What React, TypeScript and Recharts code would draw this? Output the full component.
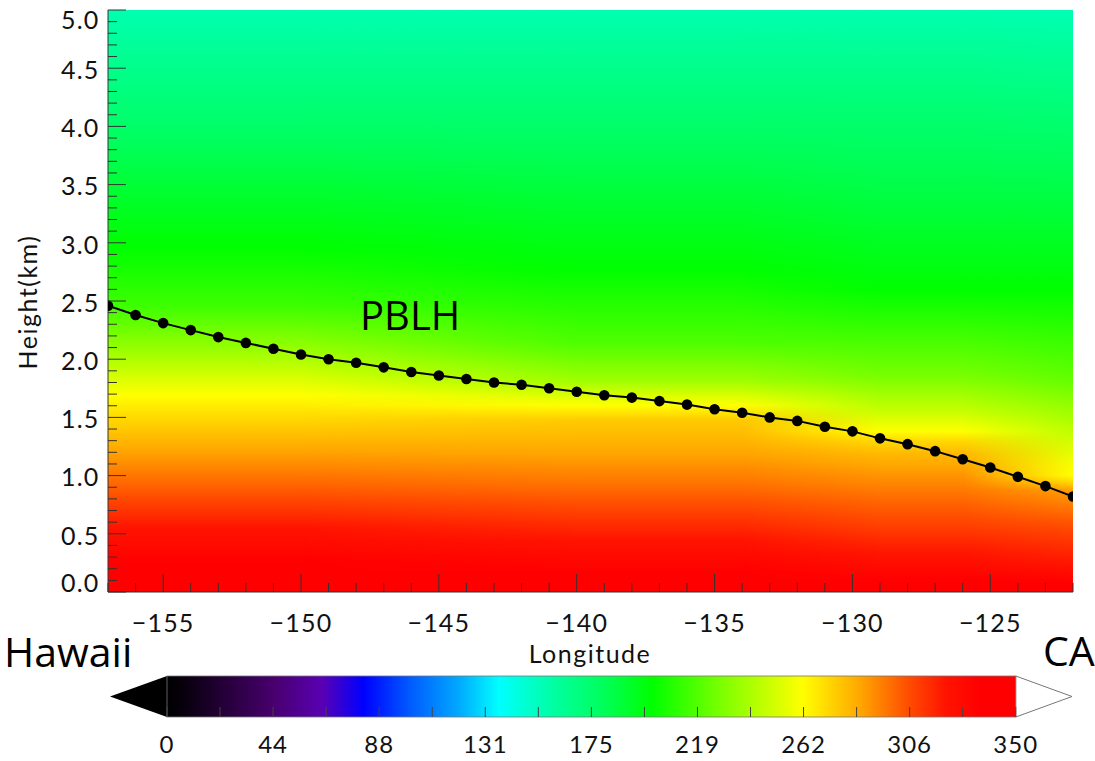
import { ComposedChart, Line, XAxis, YAxis, ReferenceArea } from "recharts";

// PBL height along the Hawaii -> California transect
const LONGITUDES = [
  -157, -156, -155, -154, -153, -152, -151, -150, -149, -148, -147, -146,
  -145, -144, -143, -142, -141, -140, -139, -138, -137, -136, -135, -134,
  -133, -132, -131, -130, -129, -128, -127, -126, -125, -124, -123, -122,
];
const PBLH_KM = [
  2.46, 2.38, 2.31, 2.25, 2.19, 2.14, 2.09, 2.04, 2.0, 1.97, 1.93, 1.89,
  1.86, 1.83, 1.8, 1.78, 1.75, 1.72, 1.69, 1.67, 1.64, 1.61, 1.57, 1.54,
  1.5, 1.47, 1.42, 1.38, 1.32, 1.27, 1.21, 1.14, 1.07, 0.99, 0.91, 0.82,
];

const X_LABELS = [-155, -150, -145, -140, -135, -130, -125];

// background field: vertical profiles (height km -> colour-bar value) at a few longitudes
const PROFILE_LONS = [-157, -136, -129, -122];
const PROFILE_HEIGHTS = [
  [0, 0.25, 0.55, 0.87, 1.19, 1.5, 1.69, 1.9, 2.14, 2.46, 2.96, 3.5, 4.05, 4.5, 5.0],
  [0, 0.23, 0.55, 0.87, 1.19, 1.48, 1.63, 1.82, 2.14, 2.77, 3.5, 4.2, 5.0],
  [0, 0.25, 0.55, 0.87, 1.19, 1.3, 1.38, 1.55, 1.85, 2.6, 3.3, 4.1, 5.0],
  [0, 0.23, 0.55, 0.88, 0.93, 1.0, 1.09, 1.35, 1.82, 2.6, 3.3, 4.0, 5.0],
];
const PROFILE_VALUES = [
  [345, 335, 321, 303, 287, 272, 262, 248, 232, 214, 200, 188, 175, 166, 156],
  [342, 332, 316, 300, 286, 276, 259, 237, 218, 200, 186, 172, 156],
  [342, 325, 310, 296, 281, 272, 262, 248, 228, 200, 187, 174, 156],
  [342, 321, 307, 287, 275, 262, 260, 247, 223, 200, 187, 175, 155],
];

// colour bar
const CB_LABELS = ["0", "44", "88", "131", "175", "219", "262", "306", "350"];
const CMAP_VALUES = [0, 8, 44, 64, 81, 100, 120, 137, 160, 180, 200, 230, 262, 285, 305, 321, 335, 350];
const CMAP_COLORS = [
  "#000000", "#0a0010", "#48006e", "#5a00b4", "#0000ff", "#005aff", "#00a8ff",
  "#00ffff", "#00ffa0", "#00ff5a", "#00ff00", "#82ff00", "#ffff00", "#ffaa00",
  "#ff5000", "#ff1400", "#ff0000", "#ff0000",
];

const XMIN = -157;
const XMAX = -122;
const CB_MAX = 350;
const TICK_FONT = "Lato, 'DejaVu Sans', sans-serif";
const NOTE_FONT = "'Open Sans', 'Noto Sans', sans-serif";

const DATA = LONGITUDES.map((lon, i) => ({ lon, h: PBLH_KM[i] }));
const Y_TICKS = Array.from({ length: 51 }, (_, i) => i / 10);
const CB_TICKS = Array.from({ length: 17 }, (_, i) => (i * CB_MAX) / 16);

function hexRgb(h: string) {
  return [1, 3, 5].map((k) => parseInt(h.slice(k, k + 2), 16));
}

function cmap(v: number) {
  let i = 0;
  while (i < CMAP_VALUES.length - 2 && v > CMAP_VALUES[i + 1]) i++;
  const t = Math.max(0, Math.min(1, (v - CMAP_VALUES[i]) / (CMAP_VALUES[i + 1] - CMAP_VALUES[i])));
  const a = hexRgb(CMAP_COLORS[i]);
  const b = hexRgb(CMAP_COLORS[i + 1]);
  const c = a.map((ai, k) => Math.round(ai + (b[k] - ai) * t));
  return `rgb(${c[0]},${c[1]},${c[2]})`;
}

// gradient stops top (5 km) -> bottom (0 km), subdivided so the colours follow the colormap
function profileStops(p: number) {
  const hs = PROFILE_HEIGHTS[p];
  const vs = PROFILE_VALUES[p];
  const out: { offset: number; color: string }[] = [];
  const SUB = 6;
  for (let j = hs.length - 1; j > 0; j--) {
    for (let s = 0; s < SUB; s++) {
      const t = s / SUB;
      const h = hs[j] + (hs[j - 1] - hs[j]) * t;
      const v = vs[j] + (vs[j - 1] - vs[j]) * t;
      out.push({ offset: 1 - h / 5, color: cmap(v) });
    }
  }
  out.push({ offset: 1 - hs[0] / 5, color: cmap(vs[0]) });
  return out;
}

// longitude ranges over which each later profile fades in over the previous one
const BLENDS = [
  [-150, -140],
  [-134, -129],
  [-126, -122],
];

function HeatLayer(props: any) {
  const { x, y, width, height } = props;
  const frac = (lon: number) => (lon - XMIN) / (XMAX - XMIN);
  return (
    <g>
      <defs>
        {PROFILE_LONS.map((_, p) => (
          <linearGradient key={p} id={`heat-${p}`} x1="0" y1="0" x2="0" y2="1">
            {profileStops(p).map((s, k) => (
              <stop key={k} offset={s.offset} stopColor={s.color} />
            ))}
          </linearGradient>
        ))}
        {BLENDS.map((b, k) => (
          <linearGradient key={`r${k}`} id={`ramp-${k}`} x1="0" y1="0" x2="1" y2="0">
            <stop offset={frac(b[0])} stopColor="#fff" stopOpacity={0} />
            <stop offset={frac(b[1])} stopColor="#fff" stopOpacity={1} />
          </linearGradient>
        ))}
        {BLENDS.map((_, k) => (
          <mask key={`m${k}`} id={`mask-${k}`} maskUnits="userSpaceOnUse" x={x} y={y} width={width} height={height}>
            <rect x={x} y={y} width={width} height={height} fill={`url(#ramp-${k})`} />
          </mask>
        ))}
      </defs>
      <rect x={x} y={y} width={width} height={height} fill="url(#heat-0)" />
      {BLENDS.map((_, k) => (
        <rect
          key={k}
          x={x}
          y={y}
          width={width}
          height={height}
          fill={`url(#heat-${k + 1})`}
          mask={`url(#mask-${k})`}
        />
      ))}
    </g>
  );
}

function XBottomTick({ x, y, payload }: any) {
  const v = payload.value;
  const major = X_LABELS.includes(v);
  return (
    <g>
      <line x1={x} x2={x} y1={y} y2={y - (major ? 18 : 9)} stroke="#333" strokeWidth={1} />
      {major && (
        <text
          x={x}
          y={y + 39.5}
          textAnchor="middle"
          fontSize={25}
          letterSpacing={1.2}
          fontFamily={TICK_FONT}
          fill="#111"
        >
          {"\u2212" + Math.abs(v)}
        </text>
      )}
    </g>
  );
}

function XTopTick({ x, y, payload }: any) {
  const major = X_LABELS.includes(payload.value);
  return <line x1={x} x2={x} y1={y} y2={y + (major ? 18 : 9)} stroke="#333" strokeWidth={1} />;
}

function YLeftTick({ x, y, payload }: any) {
  const v = payload.value;
  const major = Math.round(v * 10) % 5 === 0;
  let off = 2;
  if (v >= 5) off = 10;
  if (v <= 0) off = -9;
  return (
    <g>
      <line x1={x} x2={x + (major ? 18 : 9)} y1={y} y2={y} stroke="#333" strokeWidth={1} />
      {major && (
        <text
          x={x - 8.5}
          y={y + off + 8.8}
          textAnchor="end"
          fontSize={25}
          letterSpacing={1.2}
          fontFamily={TICK_FONT}
          fill="#111"
        >
          {v.toFixed(1)}
        </text>
      )}
    </g>
  );
}

function YRightTick({ x, y, payload }: any) {
  const major = Math.round(payload.value * 10) % 5 === 0;
  return <line x1={x} x2={x - (major ? 18 : 9)} y1={y} y2={y} stroke="#333" strokeWidth={1} />;
}

function CbTick({ x, y, index }: any) {
  return (
    <g>
      <line x1={x} x2={x} y1={y} y2={y - 10} stroke="#444" strokeWidth={1} />
      {index % 2 === 0 && (
        <text
          x={x}
          y={y + 36}
          textAnchor="middle"
          fontSize={24}
          letterSpacing={1}
          fontFamily={TICK_FONT}
          fill="#111"
        >
          {CB_LABELS[index / 2]}
        </text>
      )}
    </g>
  );
}

function CbBar(props: any) {
  const { x, y, width, height } = props;
  return (
    <g>
      <defs>
        <linearGradient id="cbar" x1="0" y1="0" x2="1" y2="0">
          {CMAP_VALUES.map((v, i) => (
            <stop key={i} offset={v / CB_MAX} stopColor={CMAP_COLORS[i]} />
          ))}
        </linearGradient>
      </defs>
      <rect x={x} y={y} width={width} height={height} fill="url(#cbar)" stroke="#777" strokeWidth={0.8} />
    </g>
  );
}

function LeftArrow({ x, y, width, height }: any) {
  return <polygon points={`${x},${y + height / 2} ${x + width},${y} ${x + width},${y + height}`} fill="#000" />;
}

function RightArrow({ x, y, width, height }: any) {
  return (
    <polygon
      points={`${x},${y} ${x + width},${y + height / 2} ${x},${y + height}`}
      fill="#fff"
      stroke="#777"
      strokeWidth={1}
    />
  );
}

export default function App() {
  return (
    <div style={{ position: "absolute", left: 0, top: 0, width: 1095, height: 761, background: "#fff" }}>
      <div style={{ position: "absolute", left: 0, top: 0 }}>
        <ComposedChart width={1095} height={680} data={DATA} margin={{ top: 10, right: 22, left: 0, bottom: 0 }}>
          <XAxis
            xAxisId="x"
            type="number"
            dataKey="lon"
            domain={[XMIN, XMAX]}
            ticks={LONGITUDES}
            interval={0}
            height={88}
            tickSize={0}
            tickMargin={0}
            tickLine={false}
            axisLine={{ stroke: "#333" }}
            tick={<XBottomTick />}
            allowDataOverflow
          />
          <XAxis
            xAxisId="xt"
            orientation="top"
            type="number"
            domain={[XMIN, XMAX]}
            ticks={LONGITUDES}
            interval={0}
            height={0}
            tickSize={0}
            tickMargin={0}
            tickLine={false}
            axisLine={{ stroke: "#333" }}
            tick={<XTopTick />}
            allowDataOverflow
          />
          <YAxis
            yAxisId="y"
            type="number"
            domain={[0, 5]}
            ticks={Y_TICKS}
            interval={0}
            width={108}
            tickSize={0}
            tickMargin={0}
            tickLine={false}
            axisLine={{ stroke: "#333" }}
            tick={<YLeftTick />}
            allowDataOverflow
          />
          <YAxis
            yAxisId="yr"
            orientation="right"
            type="number"
            domain={[0, 5]}
            ticks={Y_TICKS}
            interval={0}
            width={0}
            tickSize={0}
            tickMargin={0}
            tickLine={false}
            axisLine={{ stroke: "#333" }}
            tick={<YRightTick />}
            allowDataOverflow
          />
          <ReferenceArea
            xAxisId="x"
            yAxisId="y"
            x1={XMIN}
            x2={XMAX}
            y1={0}
            y2={5}
            shape={(p: any) => <HeatLayer {...p} />}
          />
          <Line
            xAxisId="x"
            yAxisId="y"
            type="linear"
            dataKey="h"
            stroke="#000"
            strokeWidth={2}
            dot={{ r: 5.3, fill: "#000", stroke: "none" }}
            activeDot={false}
            isAnimationActive={false}
          />
        </ComposedChart>
      </div>

      <div style={{ position: "absolute", left: 0, top: 660 }}>
        <ComposedChart
          width={1095}
          height={101}
          data={CB_TICKS.map((v) => ({ v, mid: 0.5 }))}
          margin={{ top: 16, right: 23, left: 110, bottom: 0 }}
        >
          <XAxis
            xAxisId="c"
            type="number"
            dataKey="v"
            domain={[-23.5, 373.2]}
            ticks={CB_TICKS}
            interval={0}
            height={44}
            tickSize={0}
            tickMargin={0}
            tickLine={false}
            axisLine={false}
            tick={<CbTick />}
            allowDataOverflow
          />
          <YAxis yAxisId="c" type="number" domain={[0, 1]} hide allowDataOverflow />
          <Line
            xAxisId="c"
            yAxisId="c"
            dataKey="mid"
            stroke="none"
            dot={false}
            activeDot={false}
            isAnimationActive={false}
          />
          <ReferenceArea xAxisId="c" yAxisId="c" x1={-23.5} x2={0} y1={0} y2={1} shape={(p: any) => <LeftArrow {...p} />} />
          <ReferenceArea xAxisId="c" yAxisId="c" x1={CB_MAX} x2={373.2} y1={0} y2={1} shape={(p: any) => <RightArrow {...p} />} />
          <ReferenceArea xAxisId="c" yAxisId="c" x1={0} x2={CB_MAX} y1={0} y2={1} shape={(p: any) => <CbBar {...p} />} />
        </ComposedChart>
      </div>

      <svg width={1095} height={761} style={{ position: "absolute", left: 0, top: 0, pointerEvents: "none" }}>
        <text
          transform="translate(37,302) rotate(-90)"
          textAnchor="middle"
          fontSize={25}
          letterSpacing={1.5}
          fontFamily={TICK_FONT}
          fill="#111"
        >
          Height(km)
        </text>
        <text x={590} y={663} textAnchor="middle" fontSize={25} letterSpacing={1.5} fontFamily={TICK_FONT} fill="#111">
          Longitude
        </text>
        <text x={4} y={666.5} fontSize={41} fontFamily={NOTE_FONT} fill="#000">
          Hawaii
        </text>
        <text x={1043} y={666} fontSize={41} fontFamily={NOTE_FONT} fill="#000">
          CA
        </text>
        <text x={360} y={330} fontSize={40} fontFamily={NOTE_FONT} fill="#000">
          PBLH
        </text>
      </svg>
    </div>
  );
}
